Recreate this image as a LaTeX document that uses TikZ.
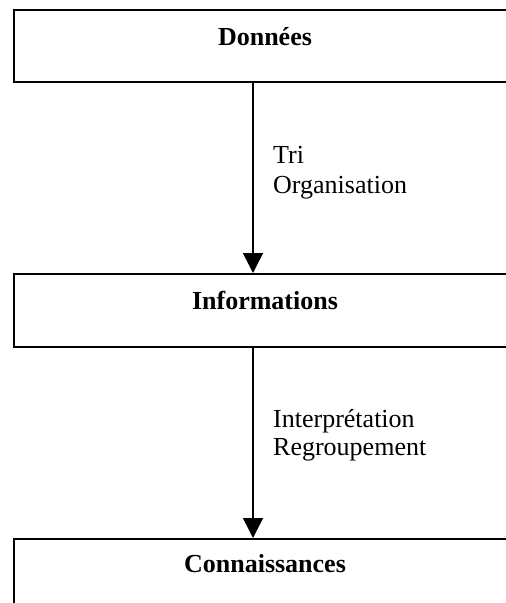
\documentclass[tikz,border=0pt]{standalone}
\usepackage{fontspec}
\setmainfont{Liberation Serif}
\usetikzlibrary{arrows.meta}
\begin{document}
\begin{tikzpicture}[x=1pt,y=1pt,
  box/.style={draw, line width=1.5pt, minimum width=504pt, minimum height=72pt, anchor=north west, inner sep=0pt},
  title/.style={anchor=base, font=\fontsize{26}{30}\selectfont\bfseries, inner sep=0pt},
  side/.style={anchor=base west, align=left, font=\fontsize{26}{30}\selectfont, inner sep=0pt},
  flow/.style={line width=1.5pt, -{Triangle[length=20pt,width=20pt]}}]
\useasboundingbox (0,0) rectangle (506,-603);
\clip (0,0) rectangle (506,-603);
\node[box] (d) at (13,-9) {};
\node[box, minimum height=73pt] (i) at (13,-273) {};
\node[box, minimum height=80pt] (c) at (13,-538) {};
\node[title] (dt) at (265,-45) {Données};
\node[title] (it) at (265,-309) {Informations};
\node[title] (ct) at (265,-572) {Connaissances};
\coordinate (ax) at (253,0);
\draw[flow] (ax |- d.south) -- (ax |- i.north);
\draw[flow] (ax |- i.south) -- (ax |- c.north);
\node[side] (l1) at (273,-163) {Tri};
\node[side] (l2) at (273,-193) {Organisation};
\node[side] (l3) at (273,-427) {Interprétation};
\node[side] (l4) at (273,-455) {Regroupement};
\end{tikzpicture}
\end{document}
